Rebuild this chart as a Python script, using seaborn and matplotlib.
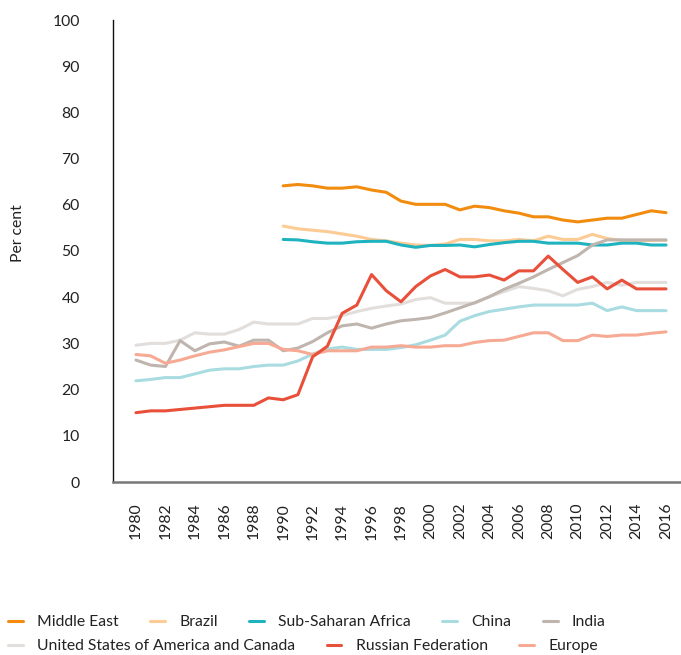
import numpy as np
import pandas as pd
import matplotlib
matplotlib.use("Agg")
import matplotlib.pyplot as plt
from matplotlib.lines import Line2D
import seaborn as sns

years = list(range(1980, 2017))
pad90 = [np.nan] * 10  # series that start in 1990

middle_east = pad90 + [64.1, 64.4, 64.1, 63.6, 63.6, 63.9, 63.2, 62.7, 60.8, 60.1,
                       60.1, 60.1, 58.9, 59.7, 59.4, 58.7, 58.2, 57.4, 57.4, 56.7,
                       56.3, 56.7, 57.1, 57.1, 57.9, 58.7, 58.3]
brazil = pad90 + [55.4, 54.8, 54.5, 54.2, 53.7, 53.2, 52.5, 52.2, 51.7, 51.3,
                  51.2, 51.5, 52.5, 52.5, 52.2, 52.2, 52.5, 52.2, 53.2, 52.5,
                  52.5, 53.6, 52.7, 52.3, 52.2, 52.3, 52.3]
sub_saharan = pad90 + [52.5, 52.4, 52.0, 51.7, 51.7, 52.0, 52.1, 52.1, 51.3, 50.8,
                       51.2, 51.2, 51.3, 50.9, 51.4, 51.8, 52.1, 52.1, 51.7, 51.7,
                       51.7, 51.3, 51.3, 51.7, 51.7, 51.3, 51.3]
china = [21.9, 22.2, 22.6, 22.6, 23.4, 24.2, 24.5, 24.5, 25.0, 25.3,
         25.3, 26.2, 27.7, 28.8, 29.2, 28.7, 28.7, 28.7, 29.1, 29.7,
         30.7, 31.8, 34.8, 36.0, 36.9, 37.4, 37.9, 38.3, 38.3, 38.3,
         38.3, 38.7, 37.1, 37.9, 37.1, 37.1, 37.1]
india = [26.4, 25.3, 25.0, 30.6, 28.4, 29.9, 30.3, 29.4, 30.7, 30.7,
         28.4, 29.0, 30.4, 32.3, 33.8, 34.2, 33.3, 34.2, 34.9, 35.2,
         35.6, 36.6, 37.7, 38.8, 40.1, 41.7, 43.0, 44.4, 46.0, 47.5,
         49.0, 51.3, 52.4, 52.4, 52.4, 52.4, 52.4]
usa_canada = [29.6, 30.0, 30.0, 30.7, 32.3, 32.0, 32.0, 33.0, 34.6, 34.2,
              34.2, 34.2, 35.4, 35.4, 36.0, 36.9, 37.6, 38.1, 38.5, 39.5,
              39.9, 38.7, 38.7, 38.7, 40.1, 41.2, 42.3, 41.9, 41.4, 40.3,
              41.7, 42.3, 43.2, 42.6, 43.2, 43.2, 43.2]
russia = [15.0, 15.4, 15.4, 15.7, 16.0, 16.3, 16.6, 16.6, 16.6, 18.2,
          17.8, 18.9, 27.1, 29.4, 36.5, 38.3, 44.9, 41.4, 39.0, 42.3,
          44.6, 46.0, 44.4, 44.4, 44.8, 43.7, 45.7, 45.7, 48.9, 46.0,
          43.2, 44.4, 41.8, 43.7, 41.8, 41.8, 41.8]
europe = [27.6, 27.3, 25.7, 26.4, 27.3, 28.1, 28.6, 29.3, 30.0, 30.0,
          28.7, 28.4, 27.6, 28.4, 28.4, 28.4, 29.2, 29.2, 29.5, 29.2,
          29.2, 29.5, 29.5, 30.2, 30.6, 30.7, 31.5, 32.3, 32.3, 30.6,
          30.6, 31.8, 31.5, 31.8, 31.8, 32.2, 32.5]

regions = ["Middle East", "Brazil", "Sub-Saharan Africa", "China", "India",
           "United States of America and Canada", "Russian Federation", "Europe"]
series = [middle_east, brazil, sub_saharan, china, india, usa_canada, russia, europe]
colors = ["#F28C0F", "#FDCB94", "#1FB3BF", "#A9DCE0", "#BFB5AE",
          "#E2DEDB", "#E8503A", "#F6AA93"]
palette = dict(zip(regions, colors))

df = pd.DataFrame({
    "year": years * len(regions),
    "value": [v for s in series for v in s],
    "region": [r for r in regions for _ in years],
}).dropna()

sns.set_theme(style="white")
plt.rcParams["font.family"] = ["Lato", "DejaVu Sans"]

FS = 11.3
TXT = "#222222"

fig = plt.figure(figsize=(6.81, 6.55), dpi=100)
ax = fig.add_axes([113 / 681, 1 - 482 / 655, 567 / 681, 462 / 655])

# draw in an order that keeps the red series on top
draw_order = ["Middle East", "Brazil", "Sub-Saharan Africa", "United States of America and Canada",
              "China", "India", "Europe", "Russian Federation"]
for r in draw_order:
    sns.lineplot(data=df[df.region == r], x="year", y="value", color=palette[r],
                 linewidth=2.2, ax=ax, legend=False)

ax.set_xlim(1978.44, 2016.95)
ax.set_ylim(0, 100)
ax.set_xticks(list(range(1980, 2017, 2)))
ax.set_yticks(list(range(0, 101, 10)))
ax.set_xlabel("")
ax.set_ylabel("")
ax.tick_params(axis="x", length=0, pad=15, labelsize=FS, labelrotation=90, colors=TXT)
ax.tick_params(axis="y", length=0, pad=24, labelsize=FS, colors=TXT)

for side in ["top", "right"]:
    ax.spines[side].set_visible(False)
ax.spines["left"].set_color("#111111")
ax.spines["left"].set_linewidth(1.0)
ax.spines["bottom"].set_color("#777777")
ax.spines["bottom"].set_linewidth(1.8)

fig.text(18.5 / 681, 1 - 233 / 655, "Per cent", rotation=90, ha="center", va="center",
         fontsize=FS, color=TXT)

def row_legend(names, ypix):
    handles = [Line2D([0], [0], color=palette[n], linewidth=2.2) for n in names]
    leg = fig.legend(handles, names, loc="center left",
                     bbox_to_anchor=(8 / 681, 1 - ypix / 655), ncol=len(names),
                     frameon=False, fontsize=FS, handlelength=0.95,
                     handletextpad=0.9, columnspacing=2.0, borderpad=0,
                     borderaxespad=0)
    for t in leg.get_texts():
        t.set_color(TXT)
    return leg

row_legend(regions[:5], 622)
row_legend(regions[5:], 646)

fig.savefig("out.png", dpi=100)
